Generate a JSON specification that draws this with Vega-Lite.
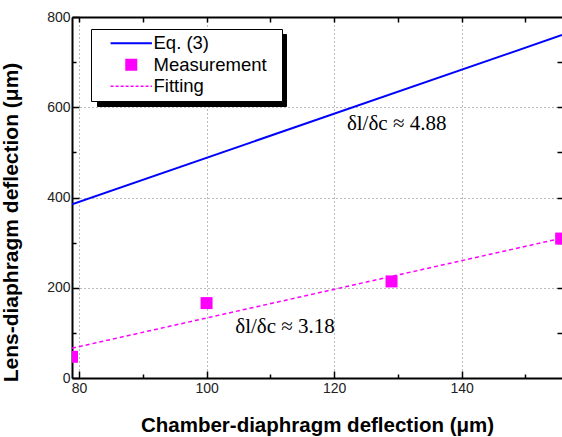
{
  "$schema": "https://vega.github.io/schema/vega-lite/v6.json",
  "width": 490,
  "height": 361,
  "autosize": {"type": "none"},
  "padding": {"left": 72, "top": 17, "right": 0, "bottom": 59},
  "background": "white",
  "config": {
    "view": {"stroke": null},
    "font": "Liberation Sans",
    "axis": {"labelFont": "Liberation Sans", "titleFont": "Liberation Sans"}
  },
  "datasets": {
    "eq": [
      {"x": 78.9, "y": 385, "series": "Eq. (3)"},
      {"x": 155.73, "y": 760, "series": "Eq. (3)"}
    ],
    "fit": [
      {"x": 78.9, "y": 66, "series": "Fitting"},
      {"x": 155.73, "y": 310, "series": "Fitting"}
    ],
    "meas": [
      {"x": 78.9, "y": 47, "series": "Measurement"},
      {"x": 100, "y": 166, "series": "Measurement"},
      {"x": 129, "y": 214, "series": "Measurement"},
      {"x": 155.6, "y": 309, "series": "Measurement"}
    ],
    "notes": [
      {"x": 122.0, "y": 563, "label": "δl/δc ≈ 4.88"},
      {"x": 104.5, "y": 113, "label": "δl/δc ≈ 3.18"}
    ]
  },
  "resolve": {"axis": {"x": "independent", "y": "independent"}},
  "layer": [
    {
      "data": {"name": "eq"},
      "mark": {"type": "line", "strokeWidth": 2, "clip": true},
      "encoding": {
        "x": {
          "field": "x", "type": "quantitative",
          "scale": {"domain": [78.9, 155.73], "nice": false, "zero": false},
          "axis": {
            "values": [80, 100, 120, 140],
            "tickSize": -7,
            "tickColor": "black", "tickWidth": 1.5,
            "labelPadding": 10,
            "labelFontSize": 14, "labelColor": "#222",
            "domainColor": "black", "domainWidth": 2,
            "grid": true, "gridColor": "#777", "gridDash": [1, 3], "gridWidth": 1,
            "title": "Chamber-diaphragm deflection (μm)",
            "titleFontSize": 20.5, "titleFontWeight": "bold", "titleColor": "black",
            "titlePadding": 20
          }
        },
        "y": {
          "field": "y", "type": "quantitative",
          "scale": {"domain": [0, 800], "nice": false},
          "axis": {
            "values": [0, 200, 400, 600, 800],
            "tickSize": -7,
            "tickColor": "black", "tickWidth": 1.5,
            "labelPadding": 9,
            "labelFontSize": 14, "labelColor": "#222",
            "domainColor": "black", "domainWidth": 2,
            "grid": true, "gridColor": "#777", "gridDash": [1, 3], "gridWidth": 1,
            "title": "Lens-diaphragm deflection (μm)",
            "titleFontSize": 21, "titleFontWeight": "bold", "titleColor": "black",
            "titlePadding": 25,
            "titleY": 205
          }
        },
        "color": {
          "field": "series", "type": "nominal",
          "scale": {"domain": ["Eq. (3)", "Measurement", "Fitting"], "range": ["#0000ff", "#ff00ff", "#ff00ff"]},
          "legend": {
            "title": null,
            "orient": "none", "legendX": 19, "legendY": 12,
            "zindex": 3,
            "fillColor": "white", "strokeColor": "black",
            "padding": 5,
            "labelFont": "Liberation Sans", "labelFontSize": 18.5, "labelColor": "black",
            "labelOffset": 13,
            "labelExpr": "datum.value === 'Measurement' ? 'Measurement\u00a0\u00a0\u200b' : datum.label",
            "symbolSize": 196,
            "symbolOffset": 26,
            "rowPadding": 2.5,
            "encode": {
              "symbols": {
                "update": {
                  "shape": {"signal": "datum.value === 'Measurement' ? 'square' : 'M-3,0H3'"},
                  "size": {"signal": "datum.value === 'Measurement' ? 144 : 190"},
                  "fill": {"signal": "datum.value === 'Measurement' ? '#ff00ff' : 'transparent'"},
                  "stroke": {"signal": "datum.value === 'Eq. (3)' ? '#0000ff' : '#ff00ff'"},
                  "strokeWidth": {"signal": "datum.value === 'Measurement' ? 0 : (datum.value === 'Eq. (3)' ? 2 : 1.5)"},
                  "strokeDash": {"signal": "datum.value === 'Fitting' ? [3, 2] : [1, 0]"},
                  "opacity": {"value": 1}
                }
              }
            }
          }
        }
      }
    },
    {
      "data": {"name": "fit"},
      "mark": {"type": "line", "strokeWidth": 1.5, "strokeDash": [4, 3], "clip": true},
      "encoding": {
        "x": {
          "field": "x", "type": "quantitative",
          "axis": {
            "orient": "top",
            "values": [80, 90, 100, 110, 120, 130, 140, 150],
            "labels": false, "grid": false, "title": null,
            "tickSize": -5,
            "tickColor": "black", "tickWidth": 1.5,
            "domainColor": "black", "domainWidth": 2
          }
        },
        "y": {
          "field": "y", "type": "quantitative",
          "axis": {
            "orient": "right",
            "values": [100, 200, 300, 400, 500, 600, 700],
            "labels": false, "grid": false, "title": null, "domain": false,
            "tickSize": -5,
            "tickColor": "black", "tickWidth": 1.5
          }
        },
        "color": {"field": "series", "type": "nominal"}
      }
    },
    {
      "data": {"name": "meas"},
      "mark": {"type": "point", "shape": "square", "filled": true, "size": 144, "opacity": 1, "clip": true},
      "encoding": {
        "x": {
          "field": "x", "type": "quantitative",
          "axis": {
            "values": [90, 110, 130, 150],
            "labels": false, "grid": false, "title": null, "domain": false,
            "tickSize": -4,
            "tickColor": "black", "tickWidth": 1.5
          }
        },
        "y": {
          "field": "y", "type": "quantitative",
          "axis": {
            "values": [100, 300, 500, 700],
            "labels": false, "grid": false, "title": null, "domain": false,
            "tickSize": -4,
            "tickColor": "black", "tickWidth": 1.5
          }
        },
        "color": {"field": "series", "type": "nominal"},
        "opacity": {
          "field": "series", "type": "nominal",
          "scale": {"domain": ["Fitting", "Measurement", "Eq. (3)"], "range": [1, 1, 1]},
          "legend": {
            "title": null,
            "orient": "none", "legendX": 25, "legendY": 17,
            "zindex": 1,
            "fillColor": "black", "strokeColor": "black",
            "padding": 5,
            "labelFont": "Liberation Sans", "labelFontSize": 18.5, "labelColor": "black",
            "labelOffset": 134,
            "labelExpr": "''",
            "symbolSize": 196,
            "symbolOffset": 26,
            "rowPadding": 2.5,
            "symbolOpacity": 0,
            "symbolType": "M-3,0H3"
          }
        }
      }
    },
    {
      "data": {"name": "notes"},
      "mark": {"type": "text", "align": "left", "baseline": "middle", "font": "Liberation Serif", "fontSize": 21, "color": "black"},
      "encoding": {
        "x": {"field": "x", "type": "quantitative", "axis": null},
        "y": {"field": "y", "type": "quantitative", "axis": null},
        "text": {"field": "label"}
      }
    }
  ]
}
